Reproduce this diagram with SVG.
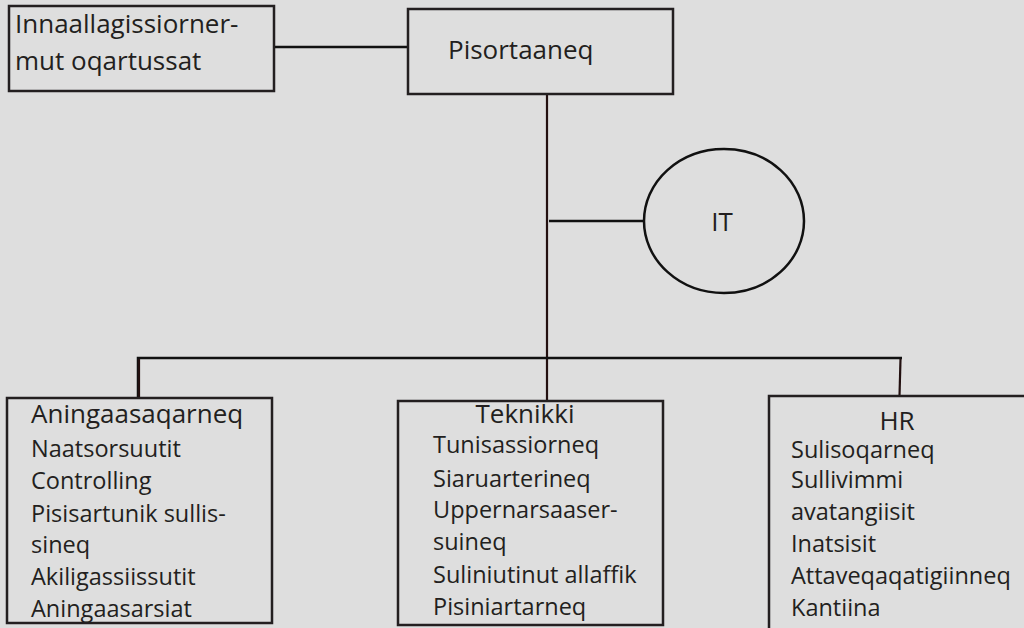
<svg xmlns="http://www.w3.org/2000/svg" width="1024" height="628" viewBox="0 0 1024 628">
<style>
.box{fill:none;stroke:#231f20;stroke-width:2.5}
.t{font-family:"Open Sans","Noto Sans",sans-serif;fill:#231f20}
.ti{font-size:26px}
.it{font-size:23.5px}
.c{fill:none;stroke:#231010;stroke-width:2.2}
.k{fill:none;stroke:#111;stroke-width:2.5}
</style>
<rect width="1024" height="628" fill="#dedede"/>
<g id="connectors">
<line class="k" x1="274" y1="47" x2="408" y2="47"/>
<line class="c" x1="547" y1="95" x2="547" y2="401"/>
<line class="k" x1="549" y1="221" x2="644" y2="221"/>
<polyline class="k" points="138,398 138,358 902,358"/>
<line class="c" x1="139" y1="359" x2="139" y2="398"/>
<line class="c" x1="900.5" y1="359" x2="899.5" y2="396"/>
</g>
<g id="n-oqartussat">
<rect class="box" x="9" y="6" width="265" height="85"/>
<text class="t ti" x="15" y="33">Innaallagissiorner-</text>
<text class="t ti" x="15" y="70">mut oqartussat</text>
</g>
<g id="n-pisortaaneq">
<rect class="box" x="408" y="9" width="265" height="85"/>
<text class="t ti" x="448" y="59">Pisortaaneq</text>
</g>
<g id="n-it">
<ellipse cx="724" cy="221" rx="80" ry="72" fill="none" stroke="#111" stroke-width="2.5"/>
<text class="t ti" x="722" y="231" text-anchor="middle">IT</text>
</g>
<g id="n-aningaasaqarneq">
<rect class="box" x="7" y="398" width="265" height="225"/>
<text class="t ti" x="31" y="423">Aningaasaqarneq</text>
<text class="t it" x="31" y="457">Naatsorsuutit</text>
<text class="t it" x="31" y="489">Controlling</text>
<text class="t it" x="31" y="522">Pisisartunik sullis-</text>
<text class="t it" x="31" y="553">sineq</text>
<text class="t it" x="31" y="585">Akiligassiissutit</text>
<text class="t it" x="31" y="617">Aningaasarsiat</text>
</g>
<g id="n-teknikki">
<rect class="box" x="398" y="401" width="265" height="224"/>
<text class="t ti" x="525" y="423" text-anchor="middle">Teknikki</text>
<text class="t it" x="433" y="453">Tunisassiorneq</text>
<text class="t it" x="433" y="487">Siaruarterineq</text>
<text class="t it" x="433" y="518">Uppernarsaaser-</text>
<text class="t it" x="433" y="550">suineq</text>
<text class="t it" x="433" y="583">Suliniutinut allaffik</text>
<text class="t it" x="433" y="615">Pisiniartarneq</text>
</g>
<g id="n-hr">
<rect class="box" x="769" y="396" width="280" height="250"/>
<text class="t ti" x="897" y="430" text-anchor="middle">HR</text>
<text class="t it" x="791" y="458">Sulisoqarneq</text>
<text class="t it" x="791" y="488">Sullivimmi</text>
<text class="t it" x="791" y="520">avatangiisit</text>
<text class="t it" x="791" y="552">Inatsisit</text>
<text class="t it" x="791" y="584">Attaveqaqatigiinneq</text>
<text class="t it" x="791" y="616">Kantiina</text>
</g>
</svg>
